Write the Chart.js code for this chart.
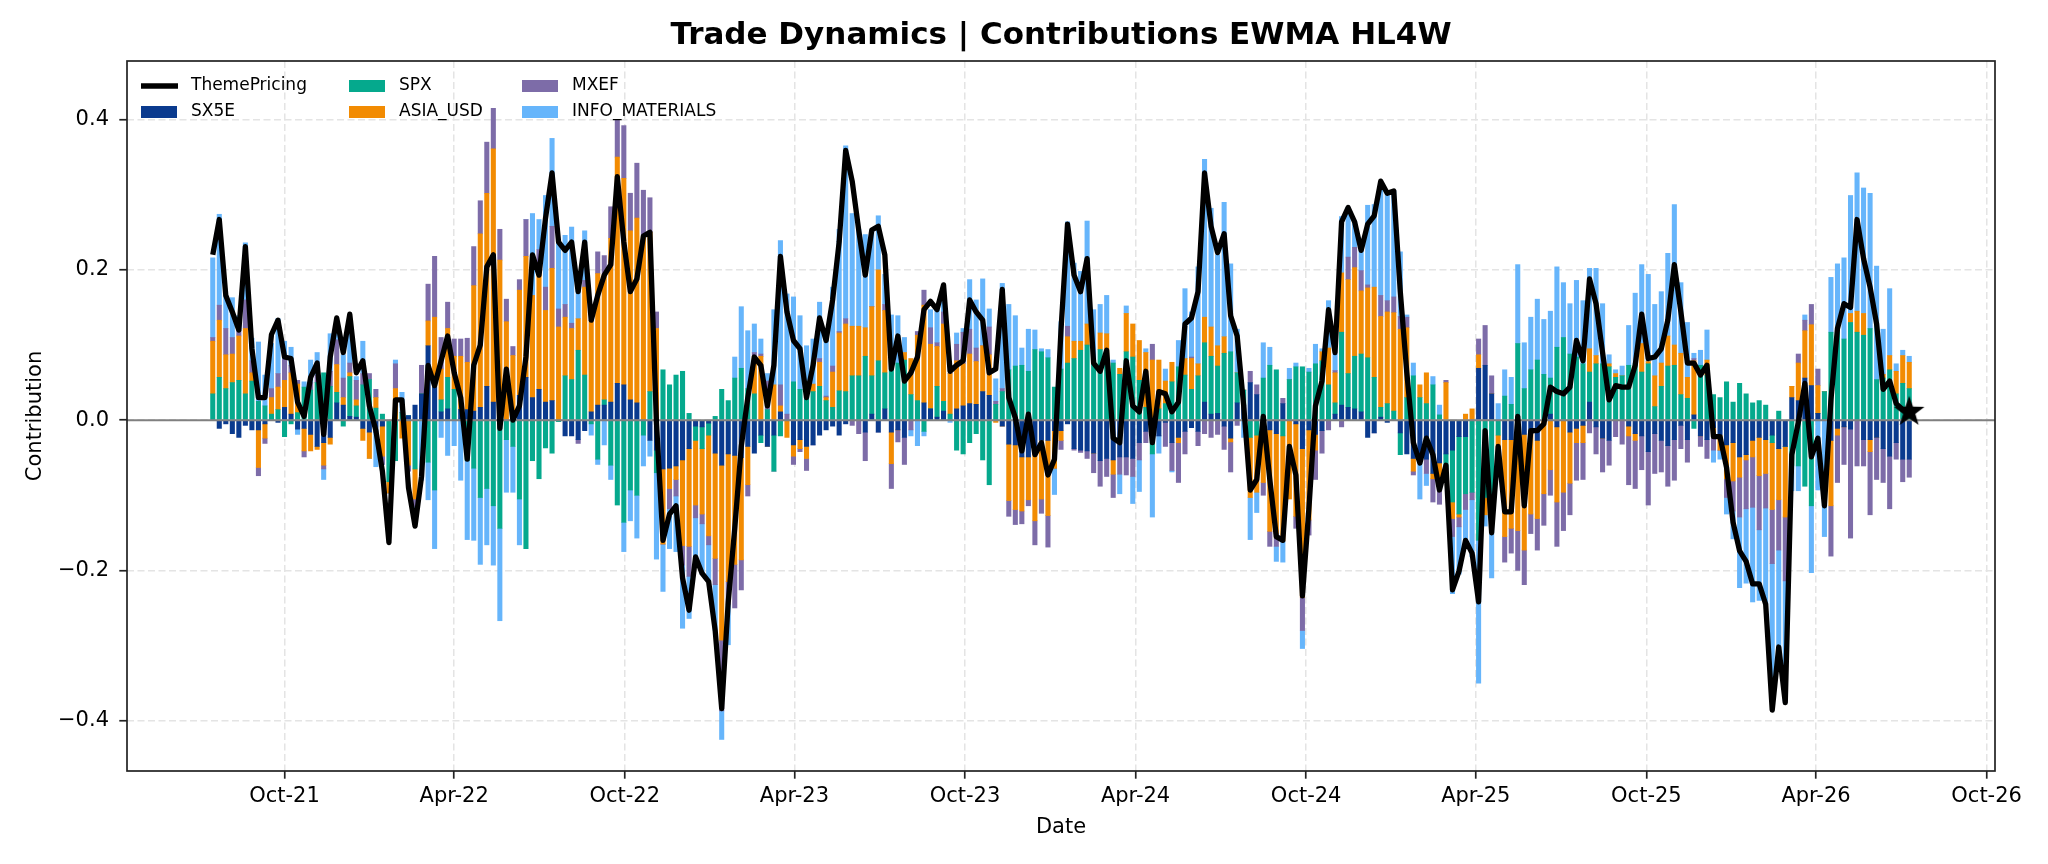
<!DOCTYPE html>
<html>
<head>
<meta charset="utf-8">
<title>Trade Dynamics | Contributions EWMA HL4W</title>
<script src="https://cdn.jsdelivr.net/npm/chart.js@4.4.1/dist/chart.umd.min.js"></script>
<style>
  html, body { margin: 0; padding: 0; background: #fff; }
  canvas { display: block; }
</style>
</head>
<body>
<canvas id="chart" width="2048" height="864"></canvas>
<script>
// weekly observations, first one on this date
const firstWeek = '2021-07-16';

const sx5e = [
  0, -.011, -.005, -.018, -.023, -.007, -.013, -.013, -.005, 0,
  -.003, .017, .008, -.012, -.011, -.019, -.035, -.03, -.023, .023,
  .02, .005, .004, -.011, -.016, -.016, -.008, 0, 0, 0,
  .006, .02, .035, .099, .044, .011, .015, 0, .014, .014,
  .012, .017, .045, .024, 0, 0, 0, .033, .057, .03,
  .041, .024, .026, 0, -.021, -.021, -.026, -.014, .011, .02,
  .02, .024, .049, .047, .027, .023, 0, -.027, -.04, -.065,
  -.064, -.061, -.053, -.038, -.008, -.009, -.004, -.044, -.06, -.045,
  -.047, -.05, -.035, -.044, -.02, -.035, -.02, .011, 0, -.033,
  -.026, -.035, -.033, -.02, -.013, -.008, -.02, -.005, 0, 0,
  -.016, .008, -.016, .015, -.016, -.013, -.023, 0, 0, .023,
  .015, .004, .012, 0, .015, .019, .022, .021, .038, .033,
  0, -.008, -.032, -.033, -.049, -.049, -.04, -.027, -.027, -.014,
  -.014, -.005, -.038, -.04, -.041, -.044, -.054, -.051, -.053, -.049,
  -.049, -.051, -.03, -.015, 0, -.021, -.003, -.03, -.023, -.015,
  -.01, -.015, .024, .008, .009, -.008, -.024, .023, .02, .05,
  .034, -.02, -.013, -.018, .022, 0, -.005, -.038, -.013, -.019,
  -.014, 0, .008, .02, .017, .015, .011, -.023, -.017, .004,
  -.003, 0, -.017, -.045, -.051, -.05, -.052, -.071, -.057, -.045,
  -.04, -.022, -.022, 0, .069, .073, .035, 0, -.026, -.026,
  -.02, -.019, -.018, -.027, 0, .008, -.009, 0, -.016, -.011,
  -.007, .024, -.009, -.024, -.027, 0, 0, -.008, -.018, -.021,
  -.042, -.018, -.027, -.034, -.026, -.007, -.026, .007, -.021, -.026,
  -.01, -.02, -.033, -.03, -.049, -.046, -.027, -.023, -.026, -.02,
  -.038, -.035, .03, .026, .056, .046, .009, 0, -.027, -.011,
  -.009, -.012, 0, -.026, -.026, -.023, -.038, -.048, -.03, -.052,
  -.052
];

const spx = [
  .035, .057, .042, .05, .053, .035, .052, .025, .019, .008,
  .014, -.022, -.005, .01, .044, .04, .05, .063, .045, .014,
  -.008, .053, .015, .047, .054, .016, .008, -.082, -.054, .01,
  0, -.065, 0, -.056, -.093, .016, .042, .041, 0, -.054,
  -.064, -.103, -.091, -.114, -.144, -.026, -.035, -.105, -.171, -.054,
  -.078, -.037, -.044, -.002, .059, .054, .093, .06, -.005, -.052,
  .007, -.06, -.113, -.136, -.093, -.1, -.02, .038, -.03, .067,
  .047, .06, .065, .009, -.019, -.029, -.016, .005, .041, .026,
  .056, .069, .042, .035, -.01, .014, -.048, -.021, 0, .051,
  .041, .035, .038, .045, .026, .017, .039, .038, .059, .059,
  .085, .051, .079, .048, .068, .076, .08, .034, .026, -.015,
  0, .041, .013, .008, -.04, -.045, -.03, -.018, -.053, -.086,
  .021, .038, .067, .072, .073, .065, .094, .091, .083, .044,
  .068, .076, .082, .093, .1, .079, .094, .08, .076, .061,
  .091, .084, .053, .017, -.045, .015, .022, .051, .071, .06,
  .041, .059, .079, .077, .063, .089, .091, .04, .02, -.023,
  -.02, .056, .073, .067, -.021, .054, .071, .071, .064, .075,
  .079, .047, .015, .097, .045, .07, .077, .083, .057, .013,
  .022, .012, -.029, .03, .059, .03, .022, .047, .007, -.02,
  -.069, -.103, -.076, -.096, -.16, -.103, -.13, -.02, .032, .021,
  .102, .042, .067, .08, .061, .048, .097, .11, .088, .084,
  .075, .04, .075, .075, .071, .057, .059, .073, .075, .064,
  .075, .018, .045, .072, .073, .034, .029, -.011, .073, .06,
  .034, .03, .051, .024, .049, .035, .023, .026, .02, -.01,
  .012, 0, -.06, -.061, -.088, -.114, 0, .038, .117, .12,
  .108, .13, .117, .113, .122, .054, .056, .067, .035, .049,
  .042
];

const asiaUsd = [
  .07, .076, .045, .038, .059, .087, .011, -.05, -.019, .022,
  .03, .036, .055, .038, -.03, -.022, -.004, -.03, -.009, .037,
  .01, .005, .008, -.016, -.035, .014, -.04, -.015, .042, -.024,
  -.06, -.04, 0, .033, .093, .041, .065, .044, .071, .063,
  .167, .231, .257, .337, .213, .131, .086, .14, .161, .136,
  .157, .122, .176, .124, .078, .068, .042, .117, .122, .175,
  .166, .218, .301, .275, .225, .246, .245, .212, .122, -.1,
  -.027, -.018, -.114, -.13, -.086, -.087, -.134, -.14, -.233, -.17,
  -.145, -.136, -.051, .05, .085, 0, .047, .008, -.023, -.015,
  -.012, -.016, .01, .032, .004, .047, .077, .09, .066, .066,
  .038, .092, .121, .083, -.042, 0, .01, .048, .087, .13,
  .086, .053, .103, .054, .064, .056, .066, .057, .061, .054,
  -.003, 0, -.075, -.086, -.072, -.057, -.094, -.078, -.1, -.05,
  -.013, .035, .023, .012, .028, 0, .022, .035, -.019, .008,
  .051, .044, .053, .073, .08, .065, .03, .026, -.007, .022,
  .041, .016, .034, .039, .027, .022, -.005, 0, 0, -.08,
  -.076, -.063, -.135, -.133, -.14, -.105, -.123, -.198, -.12, -.021,
  .012, .049, .04, .079, .125, .118, .084, .093, .12, .121,
  .122, .131, .121, .093, -.017, .017, .041, -.007, -.03, .05,
  -.022, -.004, .008, .015, .018, -.023, 0, -.04, -.129, -.118,
  -.127, -.154, -.107, -.104, -.098, -.066, -.1, -.096, -.068, -.019,
  -.023, .031, .011, 0, .004, .005, 0, -.013, -.009, .038,
  .003, .041, .031, .04, .027, .055, .028, .072, 0, .02,
  -.01, -.02, -.045, -.051, -.027, -.007, -.022, -.051, -.045, -.089,
  -.068, -.094, .015, .05, .063, .081, .037, 0, -.087, -.009,
  0, .012, .028, .029, -.016, 0, .005, .019, .03, .037,
  .035
];

const mxef = [
  .005, .02, .035, .022, .007, .038, .016, -.011, -.007, .012,
  .018, .028, .01, .005, -.008, .01, .01, -.005, .02, .033,
  .026, .013, .026, .015, .008, .011, -.011, 0, .033, 0,
  -.008, -.01, .038, .049, .081, .042, .035, .023, .023, .032,
  .052, .044, .068, .054, .041, .03, .012, .014, .049, 0,
  .029, .031, .056, .024, .017, .007, -.005, .009, 0, .029,
  .026, .042, .05, .07, .05, .073, .061, .046, .022, 0,
  -.027, -.022, -.026, -.04, -.017, -.013, -.012, -.035, -.094, -.03,
  -.058, -.04, -.015, .005, .003, .038, 0, .028, .008, -.011,
  -.004, -.016, 0, .005, .002, .008, .002, .007, -.007, -.018,
  -.038, 0, 0, .008, -.033, -.016, -.036, -.013, .005, .02,
  .022, .005, .016, 0, .022, .042, .033, .018, 0, .037,
  .004, .004, -.021, -.02, -.017, -.008, -.032, -.019, -.042, 0,
  -.012, .014, -.002, -.003, -.01, -.026, -.034, -.024, -.031, -.023,
  -.024, -.024, -.023, -.015, .021, 0, -.032, -.037, -.053, -.03,
  .002, -.019, -.018, -.023, -.019, -.031, -.04, -.007, 0, .015,
  .013, -.017, -.02, -.017, .007, 0, -.016, -.044, -.02, -.039,
  -.03, -.013, .003, -.009, .03, .027, .027, .004, 0, .028,
  .015, .021, .017, .014, -.005, 0, -.019, -.031, -.025, .003,
  -.024, -.013, -.021, -.01, .021, .053, .024, 0, -.034, -.033,
  -.053, -.046, -.026, -.042, -.042, -.034, -.059, -.051, -.042, -.05,
  -.049, -.017, -.036, -.045, -.033, -.022, -.032, -.065, -.064, -.045,
  -.071, -.053, -.042, -.054, -.054, -.031, -.03, .003, -.014, -.025,
  -.02, 0, -.025, -.04, -.053, -.065, -.067, -.072, -.046, -.072,
  -.067, -.085, 0, .012, .014, .027, .022, 0, -.067, -.063,
  -.05, -.145, -.061, -.035, -.084, -.056, -.045, -.07, -.022, -.03,
  -.024
];

const infoMaterials = [
  .106, .121, .044, .053, .02, .076, .03, .079, .041, .06,
  .073, .024, .024, -.007, .007, .03, .03, -.014, .05, .025,
  .031, .046, .005, .043, 0, -.046, 0, 0, .005, .027,
  0, -.02, -.08, -.05, -.078, -.023, -.047, -.034, -.08, -.105,
  -.096, -.089, -.075, -.079, -.123, -.07, -.061, -.061, 0, .109,
  .04, .122, .117, .089, .092, .128, .04, .066, -.015, -.007,
  -.033, -.019, 0, -.039, -.041, -.057, -.041, -.021, -.115, -.063,
  -.053, -.074, -.084, -.056, -.06, -.067, -.048, -.061, -.038, -.054,
  .028, .082, .077, .038, .02, .01, .1, .192, .16, .113,
  .098, .064, .06, .075, .085, .105, .136, .23, .15, .129,
  .124, .102, .072, .04, .072, .063, .02, -.008, -.034, -.006,
  .024, .044, .03, -.003, .015, .005, .066, .064, .089, .024,
  .03, .14, .087, .067, .023, .056, .026, .004, .011, -.035,
  .063, .139, .104, .093, .137, .068, .038, .051, .004, -.026,
  .01, -.036, -.042, .005, -.084, -.023, .016, -.002, .035, .093,
  .06, .129, .21, .158, .121, .179, .117, .058, -.023, -.056,
  -.027, .047, .024, -.02, -.028, .015, .005, -.024, .005, .026,
  .004, .063, .022, .075, .066, .034, .037, .106, .11, .148,
  .143, .141, .086, .003, .017, -.055, -.016, .011, .013, 0,
  -.076, -.063, -.042, -.076, -.19, -.015, -.08, .022, .035, .036,
  .105, .061, .07, .081, .073, .089, .107, .073, .067, .102,
  .084, .107, .116, .08, .012, .005, .013, .053, .094, .105,
  .116, .095, .095, .11, .187, .094, .073, .007, .02, .04,
  -.016, -.012, -.022, -.037, -.094, -.099, -.126, -.094, -.128, -.17,
  -.134, -.16, -.034, -.033, .007, -.089, -.093, -.155, .073, .088,
  .108, .157, .184, .167, .18, .151, .06, .089, .01, .007,
  .008
];

const themePricing = [
  .22, .267, .166, .144, .12, .231, .095, .03, .03, .114,
  .133, .084, .082, .024, .005, .057, .076, -.019, .084, .136,
  .09, .141, .063, .079, .019, -.014, -.068, -.163, .027, .027,
  -.09, -.141, -.075, .073, .046, .079, .112, .063, .03, -.052,
  .073, .1, .204, .22, -.011, .068, 0, .019, .084, .22,
  .193, .269, .329, .237, .226, .237, .171, .237, .133, .166,
  .193, .207, .324, .237, .171, .188, .245, .25, -.003, -.16,
  -.125, -.114, -.21, -.253, -.182, -.204, -.215, -.28, -.384, -.242,
  -.144, -.035, .03, .084, .073, .019, .073, .218, .144, .106,
  .095, .03, .073, .136, .106, .16, .237, .359, .318, .253,
  .193, .253, .258, .22, .068, .112, .052, .063, .084, .147,
  .158, .147, .18, .065, .073, .079, .16, .144, .133, .063,
  .068, .174, .03, .003, -.041, .008, -.046, -.03, -.073, -.052,
  .12, .261, .193, .171, .215, .076, .065, .093, -.024, -.03,
  .079, .019, .011, .065, -.03, .038, .035, .011, .024, .128,
  .136, .171, .329, .258, .223, .248, .139, .112, .019, -.093,
  -.079, .005, -.079, -.155, -.16, -.035, -.073, -.234, -.117, .019,
  .052, .147, .09, .264, .283, .264, .226, .261, .272, .318,
  .302, .305, .171, .063, -.03, -.057, -.024, -.046, -.093, -.06,
  -.226, -.201, -.16, -.177, -.242, -.014, -.15, -.035, -.122, -.122,
  .005, -.114, -.014, -.014, -.005, .044, .038, .035, .044, .106,
  .079, .188, .155, .09, .027, .046, .044, .044, .073, .141,
  .082, .084, .095, .133, .207, .144, .076, .076, .06, .073,
  -.022, -.022, -.063, -.136, -.174, -.188, -.218, -.218, -.245, -.386,
  -.302, -.376, -.046, -.003, .049, -.049, -.024, -.114, .027, .122,
  .155, .15, .267, .215, .177, .128, .041, .052, .022, .014,
  .011
];

const tickDates = ['2021-10-01', '2022-04-01', '2022-10-01', '2023-04-01', '2023-10-01',
  '2024-04-01', '2024-10-01', '2025-04-01', '2025-10-01', '2026-04-01', '2026-10-01'];
const yTicks = [-0.4, -0.2, 0.0, 0.2, 0.4];
const xRange = ['2021-04-15', '2026-10-10'];
const yRange = [-0.467, 0.478];

const DAY = 86400000;
const MONTHS = ['Jan', 'Feb', 'Mar', 'Apr', 'May', 'Jun', 'Jul', 'Aug', 'Sep', 'Oct', 'Nov', 'Dec'];
const toDay = s => Date.parse(s + 'T00:00:00Z') / DAY;
const fmtDate = d => {
  const dt = new Date(d * DAY);
  return MONTHS[dt.getUTCMonth()] + '-' + String(dt.getUTCFullYear()).slice(2);
};
const fmtNum = v => (v < -1e-9 ? '\u2212' : '') + Math.abs(v).toFixed(1);

const start = toDay(firstWeek);
const weeks = themePricing.map((_, i) => start + 7 * i);
const pts = arr => arr.map((y, i) => ({x: weeks[i], y: y}));

const bars = [
  {label: 'SX5E', values: sx5e, color: '#0a3a8e'},
  {label: 'SPX', values: spx, color: '#05a98d'},
  {label: 'ASIA_USD', values: asiaUsd, color: '#f28b02'},
  {label: 'MXEF', values: mxef, color: '#7d6ca8'},
  {label: 'INFO_MATERIALS', values: infoMaterials, color: '#66b5fb'}
];

// filled five point star for the last point of the line
function makeStar(r) {
  const c = document.createElement('canvas');
  c.width = c.height = Math.ceil(2 * r + 2);
  const g = c.getContext('2d');
  g.translate(c.width / 2, c.height / 2);
  g.beginPath();
  for (let k = 0; k < 10; k++) {
    const rad = k % 2 ? r * 0.4 : r;
    const a = -Math.PI / 2 + k * Math.PI / 5;
    g.lineTo(rad * Math.cos(a), rad * Math.sin(a));
  }
  g.closePath();
  g.fillStyle = '#000';
  g.fill();
  return c;
}
const star = makeStar(16);
const last = themePricing.length - 1;

const datasets = [{
  type: 'line',
  label: 'ThemePricing',
  data: pts(themePricing),
  stack: 'theme',
  order: 0,
  borderColor: '#000',
  borderWidth: 5.3,
  borderJoinStyle: 'round',
  tension: 0,
  pointRadius: ctx => ctx.dataIndex === last ? 12 : 0,
  pointStyle: ctx => ctx.dataIndex === last ? star : 'circle',
  pointBackgroundColor: '#000'
}].concat(bars.map(b => ({
  type: 'bar',
  label: b.label,
  data: pts(b.values),
  stack: 'contrib',
  order: 1,
  backgroundColor: b.color,
  borderWidth: 0,
  barThickness: 4.4
})));

Chart.defaults.font.family = "'DejaVu Sans', sans-serif";
Chart.defaults.color = '#000';

const zeroLine = {
  id: 'zeroLine',
  beforeDatasetDraw(chart, args) {
    if (chart.data.datasets[args.index].type !== 'line') return;
    const {ctx, chartArea, scales} = chart;
    const y = scales.y.getPixelForValue(0);
    ctx.save();
    ctx.strokeStyle = '#808080';
    ctx.lineWidth = 2;
    ctx.beginPath();
    ctx.moveTo(chartArea.left, y);
    ctx.lineTo(chartArea.right, y);
    ctx.stroke();
    ctx.restore();
  }
};

const frameAndText = {
  id: 'frameAndText',
  afterDraw(chart) {
    const {ctx, chartArea: a} = chart;
    ctx.save();
    ctx.strokeStyle = '#222';
    ctx.lineWidth = 1.7;
    ctx.strokeRect(a.left, a.top, a.right - a.left, a.bottom - a.top);

    ctx.fillStyle = '#000';
    ctx.font = "bold 31px 'DejaVu Sans'";
    ctx.textAlign = 'center';
    ctx.textBaseline = 'middle';
    ctx.fillText('Trade Dynamics | Contributions EWMA HL4W', (a.left + a.right) / 2, 35.5);

    // legend, 3 columns x 2 rows
    const items = [
      {label: 'ThemePricing', line: true},
      {label: bars[0].label, color: bars[0].color},
      {label: bars[1].label, color: bars[1].color},
      {label: bars[2].label, color: bars[2].color},
      {label: bars[3].label, color: bars[3].color},
      {label: bars[4].label, color: bars[4].color}
    ];
    const colX = [a.left + 14, a.left + 222, a.left + 395];
    const rowY = [a.top + 25, a.top + 51];
    ctx.font = "17px 'DejaVu Sans'";
    ctx.textAlign = 'left';
    items.forEach((it, i) => {
      const x = colX[Math.floor(i / 2)];
      const y = rowY[i % 2];
      if (it.line) {
        ctx.strokeStyle = '#000';
        ctx.lineWidth = 5.3;
        ctx.beginPath();
        ctx.moveTo(x, y);
        ctx.lineTo(x + 37, y);
        ctx.stroke();
      } else {
        ctx.fillStyle = it.color;
        ctx.fillRect(x, y - 6, 36, 12);
      }
      ctx.fillStyle = '#000';
      ctx.fillText(it.label, x + 50, y);
    });
    ctx.restore();
  }
};

const gridStyle = {
  color: '#e4e4e4',
  lineWidth: 1.5,
  tickLength: 7.7,
  tickColor: '#222',
  tickWidth: 1.7,
  tickBorderDash: []
};

new Chart(document.getElementById('chart'), {
  type: 'bar',
  data: {datasets: datasets},
  options: {
    responsive: false,
    animation: false,
    devicePixelRatio: 1,
    layout: {padding: {left: 0, right: 53, top: 61, bottom: 0}},
    plugins: {
      legend: {display: false},
      tooltip: {enabled: false},
      title: {display: false}
    },
    scales: {
      x: {
        type: 'linear',
        offset: false,
        min: toDay(xRange[0]),
        max: toDay(xRange[1]),
        afterBuildTicks: s => { s.ticks = tickDates.map(d => ({value: toDay(d)})); },
        afterFit: s => { s.height = 93; },
        ticks: {
          autoSkip: false,
          maxRotation: 0,
          padding: 5.1,
          font: {size: 21},
          callback: v => fmtDate(v)
        },
        grid: Object.assign({offset: false}, gridStyle),
        border: {display: false, dash: [7, 3.5]},
        title: {display: true, text: 'Date', font: {size: 21}, padding: {top: 0, bottom: 23.9}}
      },
      y: {
        stacked: true,
        min: yRange[0],
        max: yRange[1],
        afterBuildTicks: s => { s.ticks = yTicks.map(v => ({value: v})); },
        afterFit: s => { s.width = 127; },
        ticks: {
          padding: 10.3,
          font: {size: 21},
          callback: v => fmtNum(v)
        },
        grid: gridStyle,
        border: {display: false, dash: [7, 3.5]},
        title: {display: true, text: 'Contribution', font: {size: 21}, padding: {top: 23.4, bottom: 0}}
      }
    }
  },
  plugins: [zeroLine, frameAndText]
});
</script>
</body>
</html>
